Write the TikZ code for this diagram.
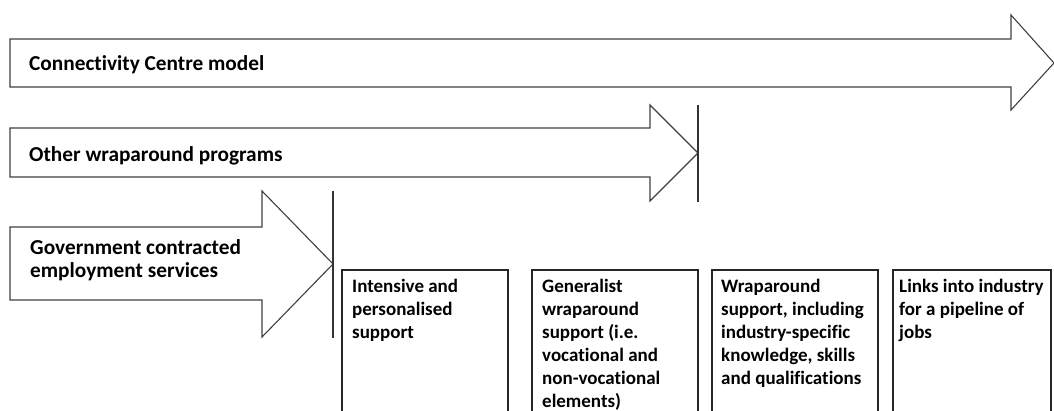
\documentclass[tikz,border=0pt]{standalone}
\usepackage{fontspec}
\setmainfont{Carlito}[Ligatures=NoCommon]
\begin{document}
\begin{tikzpicture}[x=1pt,y=-1pt,
  arrowshape/.style={draw=black!75,line width=1.1pt,fill=white,line join=miter},
  stopline/.style={draw=black!80,line width=1.1pt},
  boxframe/.style={draw=black!85,line width=1.1pt},
  lbl/.style={font=\bfseries\fontsize{19}{23}\selectfont,inner sep=0pt,align=left,text=black},
  albl/.style={font=\bfseries\fontsize{21.3}{22.8}\selectfont,inner sep=0pt,align=left,text=black},
]
\useasboundingbox (0,0) rectangle (1054,411);
% arrow 1
\draw[arrowshape] (10,39) -- (1011,39) -- (1011,15) -- (1054,63) -- (1011,110) -- (1011,87) -- (10,87) -- cycle;
\node[albl,anchor=base west] (a1) at (29,71) {Connectivity Centre model};
% arrow 2
\draw[arrowshape] (10,128) -- (650,128) -- (650,105) -- (698,153) -- (650,201) -- (650,177) -- (10,177) -- cycle;
\coordinate (s2t) at (698,105);
\coordinate (s2b) at (698,202);
\draw[stopline] (s2t) -- (s2b);
\node[albl,anchor=base west] (a2) at (29,162) {Other wraparound programs};
% arrow 3
\draw[arrowshape] (10,227) -- (262,227) -- (262,191) -- (333,264) -- (262,337) -- (262,300) -- (10,300) -- cycle;
\coordinate (s3t) at (333,191);
\coordinate (s3b) at (333,338);
\draw[stopline] (s3t) -- (s3b);
\node[albl,anchor=base west] (a3) at (30,255) {Government contracted};
\node[albl,anchor=base west] (a3b) at (30,277.5) {employment services};
% boxes
\draw[boxframe] (342,420) -- (342,270) -- (508,270) -- (508,420);
\draw[boxframe] (532,420) -- (532,270) -- (698,270) -- (698,420);
\draw[boxframe] (712,420) -- (712,270) -- (878,270) -- (878,420);
\draw[boxframe] (893,420) -- (893,270) -- (1051,270) -- (1051,420);
\node[lbl,anchor=north west] (b1) at (352,279) {Intensive and\\personalised\\support};
\node[lbl,anchor=north west] (b2) at (542,279) {Generalist\\wraparound\\support (i.e.\\vocational and\\non-vocational\\elements)};
\node[lbl,anchor=north west] (b3) at (721,279) {Wraparound\\support, including\\industry-specific\\knowledge, skills\\and qualifications};
\node[lbl,anchor=north west] (b4) at (899,279) {Links into industry\\for a pipeline of\\jobs};
\end{tikzpicture}
\end{document}
